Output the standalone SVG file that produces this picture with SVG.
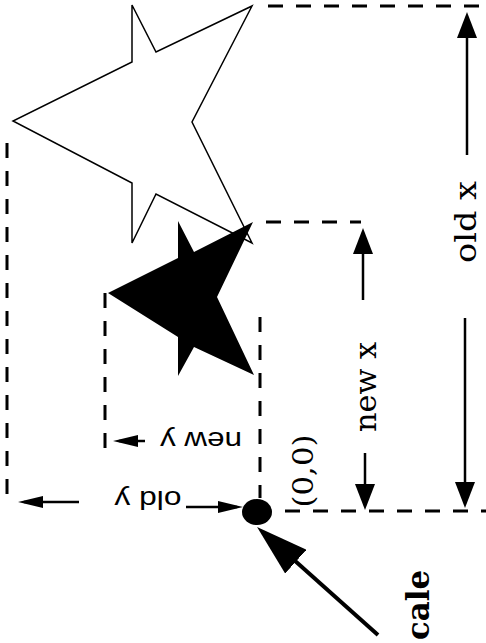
<svg xmlns="http://www.w3.org/2000/svg" width="486" height="643" viewBox="0 0 486 643">
<style>
.dash{fill:none;stroke:#000;stroke-width:3;stroke-dasharray:15 13}
.shaft{fill:none;stroke:#000;stroke-width:2.5}
.serif{font-family:"DejaVu Serif","Liberation Serif",serif;fill:#000}
.sans{font-family:"Liberation Sans",Arial,sans-serif;fill:#000}
</style>
<defs>
<marker id="hb" markerUnits="userSpaceOnUse" markerWidth="26" markerHeight="20" refX="20" refY="10" orient="auto"><path d="M0,0 L26,10 L0,20 z" fill="#000"/></marker>
<marker id="hs" markerUnits="userSpaceOnUse" markerWidth="25" markerHeight="12" refX="19" refY="6" orient="auto"><path d="M0,0 L25,6 L0,12 z" fill="#000"/></marker>
<marker id="hp" markerUnits="userSpaceOnUse" markerWidth="52" markerHeight="32" refX="44" refY="16" orient="auto"><path d="M0,0 L52,16 L0,32 z" fill="#000"/></marker>
</defs>
<g id="old-star"><polygon points="132,5 156,52 252,6 192,122 252,243 156,194 132,243 132,183 13,121 132,62" fill="#fff" stroke="#000" stroke-width="1.5"/></g>
<g id="new-star"><polygon points="178,221 194,252 253,222 217,297 254,375 194,347 178,376 178,337 108,293 178,258" fill="#000"/></g>
<g id="origin"><ellipse cx="257" cy="512" rx="15" ry="13" fill="#000"/></g>
<g id="guides">
<line class="dash" x1="268" y1="6" x2="486" y2="6"/>
<line class="dash" x1="266" y1="222" x2="361" y2="222"/>
<line class="dash" x1="285" y1="511" x2="486" y2="511"/>
<line class="dash" x1="7" y1="143" x2="7" y2="500"/>
<line class="dash" x1="105" y1="293" x2="105" y2="448"/>
<line class="dash" x1="260" y1="317" x2="260" y2="498"/>
</g>
<g id="connectors">
<line class="shaft" x1="467" y1="155" x2="467" y2="18" marker-end="url(#hb)"/>
<line class="shaft" x1="465" y1="318" x2="465" y2="502" marker-end="url(#hb)"/>
<line class="shaft" x1="363" y1="300" x2="363" y2="234" marker-end="url(#hb)"/>
<line class="shaft" x1="365" y1="453" x2="365" y2="504" marker-end="url(#hb)"/>
<line class="shaft" x1="145" y1="441" x2="119" y2="441" marker-end="url(#hs)"/>
<line class="shaft" x1="79" y1="502" x2="24" y2="502" marker-end="url(#hs)"/>
<line class="shaft" x1="186" y1="507" x2="237" y2="507" marker-end="url(#hs)"/>
<line x1="378" y1="635" x2="263" y2="532.3" stroke="#000" stroke-width="4" marker-end="url(#hp)"/>
</g>
<g id="labels">
<text class="serif" font-size="30" text-anchor="middle" textLength="82" lengthAdjust="spacingAndGlyphs" transform="translate(476,222) rotate(-90)">old x</text>
<text class="serif" font-size="30" text-anchor="middle" textLength="90" lengthAdjust="spacingAndGlyphs" transform="translate(376,387) rotate(-90)">new x</text>
<text class="serif" font-size="28" text-anchor="middle" textLength="73" lengthAdjust="spacingAndGlyphs" transform="translate(313,471) rotate(-90)">(0,0)</text>
<text class="serif" font-size="31" font-weight="bold" textLength="70" lengthAdjust="spacingAndGlyphs" transform="translate(429,640) rotate(-90)">cale</text>
<text class="sans" font-size="25" text-anchor="middle" textLength="82" lengthAdjust="spacingAndGlyphs" transform="translate(201,432) rotate(180)">new y</text>
<text class="sans" font-size="25" text-anchor="middle" textLength="67" lengthAdjust="spacingAndGlyphs" transform="translate(148,491) rotate(180)">old y</text>
</g>
</svg>
